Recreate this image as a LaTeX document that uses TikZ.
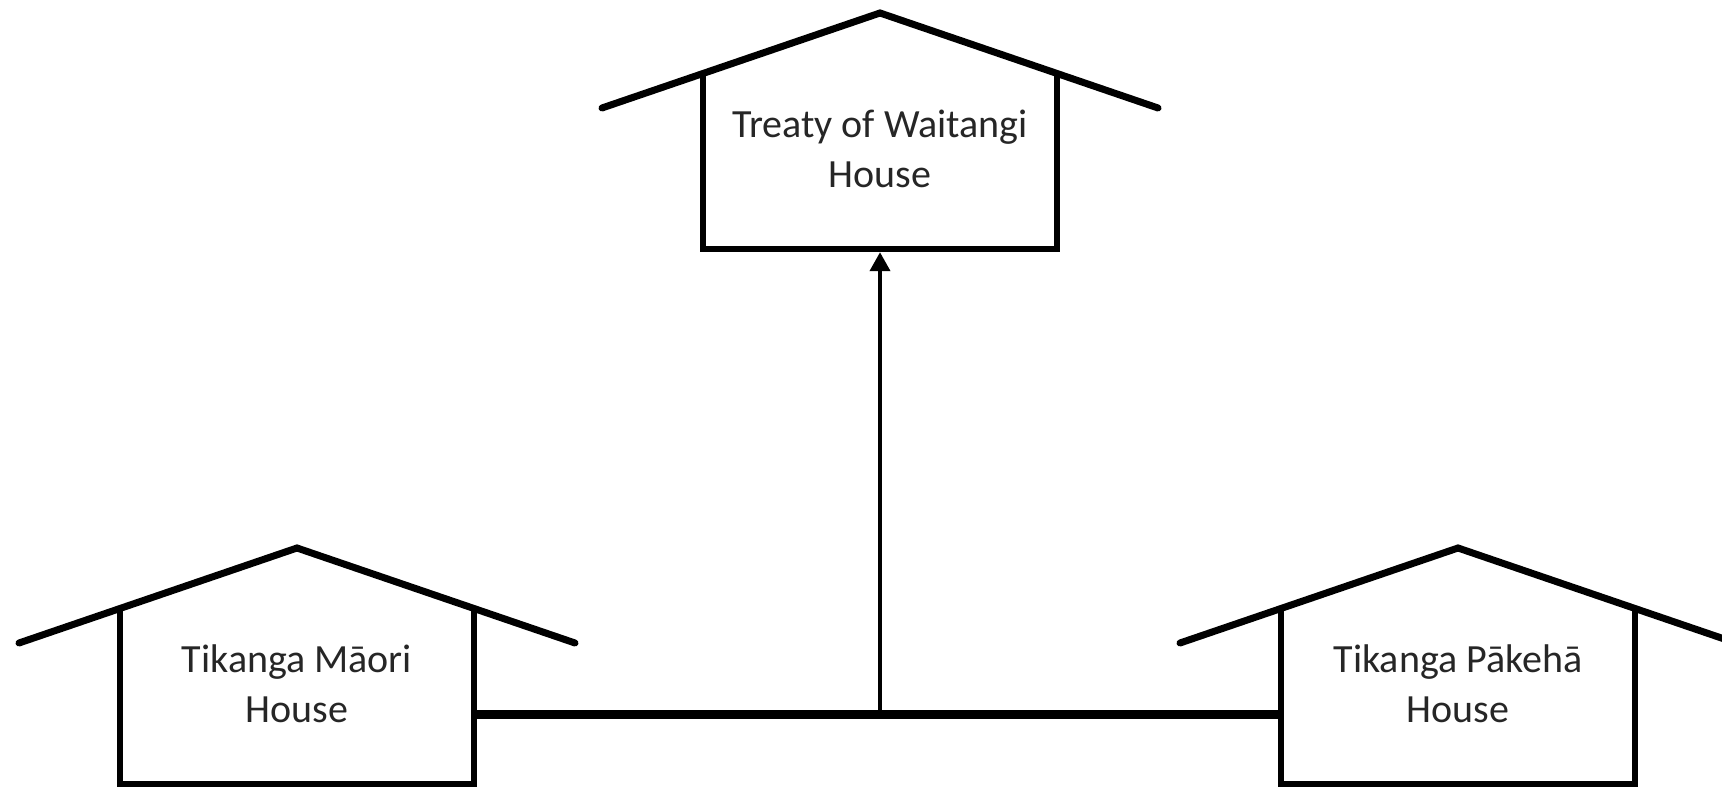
\documentclass[tikz,border=0pt]{standalone}
\usepackage{fontspec}
\setmainfont{Carlito}
\usetikzlibrary{arrows.meta}

\tikzset{
    housebox/.style={minimum width=177pt, minimum height=88pt, inner sep=0pt, outer sep=0pt},
    walls/.style={line width=3.25pt},
    housetext/.style={align=center, font=\fontsize{20}{25}\selectfont, text=black!85},
    roof/.style={line width=3.5pt, line join=miter, line cap=round},
    link/.style={line width=4.5pt},
    uparrow/.style={line width=2pt, -{Triangle[width=10pt,length=9.5pt]}, shorten >=1.6pt}
}

\begin{document}
\begin{tikzpicture}[x=0.5pt,y=-0.5pt]
        \useasboundingbox (0,0) rectangle (1722,790);
        \clip (0,0) rectangle (1722,790);

        \node[housebox] (treaty) at (880,161) {};
        \node[housetext] (treatylabel) at (880,149) {Treaty of Waitangi\\House};
        \node[housebox] (maori) at (297,696) {};
        \node[housetext] (maorilabel) at (297,684) {Tikanga Māori\\House};
        \node[housebox] (pakeha) at (1458,696) {};
        \node[housetext] (pakehalabel) at (1458,684) {Tikanga Pākehā\\House};

        \draw[walls] (treaty.north west) -- (treaty.south west) -- (treaty.south east) -- (treaty.north east);
        \draw[walls] (maori.north west) -- (maori.south west) -- (maori.south east) -- (maori.north east);
        \draw[walls] (pakeha.north west) -- (pakeha.south west) -- (pakeha.south east) -- (pakeha.north east);

        \draw[roof] ([shift={(-101,35)}]treaty.north west) -- ([shift={(0,-60)}]treaty.north) -- ([shift={(101,35)}]treaty.north east);
        \draw[roof] ([shift={(-101,35)}]maori.north west) -- ([shift={(0,-60)}]maori.north) -- ([shift={(101,35)}]maori.north east);
        \draw[roof] ([shift={(-101,35)}]pakeha.north west) -- ([shift={(0,-60)}]pakeha.north) -- ([shift={(101,35)}]pakeha.north east);

        \coordinate (joint) at (880,714);
        \draw[link] (maori.east |- joint) -- (pakeha.west |- joint);
        \draw[uparrow] (joint) -- (treaty.south);

    \end{tikzpicture}
\end{document}
